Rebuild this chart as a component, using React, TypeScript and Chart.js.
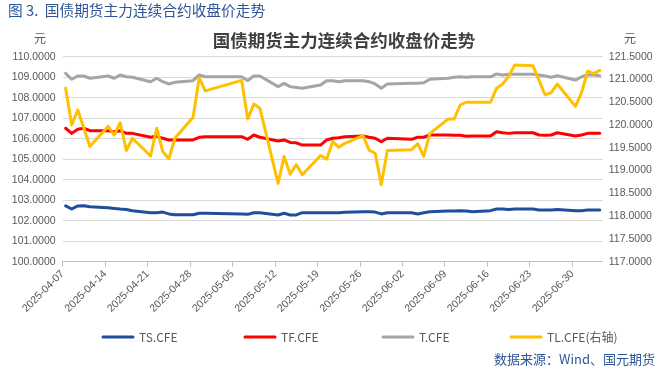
import React, { useEffect, useRef } from 'react';
import { Chart, registerables } from 'chart.js';

Chart.register(...registerables);

// ---------------- data ----------------
const figureCaption = '图 3.  国债期货主力连续合约收盘价走势';
const chartTitle = '国债期货主力连续合约收盘价走势';
const unitLabel = '元';
const sourceNote = '数据来源：Wind、国元期货';

const axisStartDate = '2025-04-07';
const axisDays = 89; // calendar days shown (04-07 .. 07-04)
const tickEveryDays = 7;

const tradeDates = [
  '2025-04-07', '2025-04-08', '2025-04-09', '2025-04-10', '2025-04-11',
  '2025-04-14', '2025-04-15', '2025-04-16', '2025-04-17', '2025-04-18',
  '2025-04-21', '2025-04-22', '2025-04-23', '2025-04-24', '2025-04-25',
  '2025-04-28', '2025-04-29', '2025-04-30',
  '2025-05-06', '2025-05-07', '2025-05-08', '2025-05-09',
  '2025-05-12', '2025-05-13', '2025-05-14', '2025-05-15', '2025-05-16',
  '2025-05-19', '2025-05-20', '2025-05-21', '2025-05-22', '2025-05-23',
  '2025-05-26', '2025-05-27', '2025-05-28', '2025-05-29', '2025-05-30',
  '2025-06-03', '2025-06-04', '2025-06-05', '2025-06-06',
  '2025-06-09', '2025-06-10', '2025-06-11', '2025-06-12', '2025-06-13',
  '2025-06-16', '2025-06-17', '2025-06-18', '2025-06-19', '2025-06-20',
  '2025-06-23', '2025-06-24', '2025-06-25', '2025-06-26', '2025-06-27',
  '2025-06-30', '2025-07-01', '2025-07-02', '2025-07-03', '2025-07-04',
];

const tsValues = [
  102.72, 102.57, 102.72, 102.73, 102.68,
  102.63, 102.60, 102.57, 102.55, 102.49,
  102.39, 102.39, 102.42, 102.33, 102.29,
  102.29, 102.36, 102.36,
  102.33, 102.31, 102.39, 102.39,
  102.28, 102.36, 102.28, 102.28, 102.39,
  102.39, 102.39, 102.39, 102.39, 102.41,
  102.44, 102.44, 102.42, 102.33, 102.39,
  102.39, 102.33, 102.39, 102.44,
  102.47, 102.47, 102.49, 102.47, 102.44,
  102.49, 102.57, 102.57, 102.55, 102.57,
  102.57, 102.52, 102.52, 102.52, 102.55,
  102.49, 102.49, 102.52, 102.52, 102.52,
];

const tfValues = [
  106.51, 106.26, 106.46, 106.51, 106.39,
  106.39, 106.34, 106.39, 106.26, 106.26,
  106.07, 106.13, 106.02, 105.94, 105.94,
  105.94, 106.07, 106.10,
  106.10, 105.97, 106.18, 106.07,
  105.89, 105.94, 105.82, 105.80, 105.69,
  105.69, 105.94, 106.02, 106.05, 106.10,
  106.13, 106.07, 106.02, 105.85, 106.02,
  105.97, 106.07, 106.07, 106.18,
  106.18, 106.17, 106.17, 106.12, 106.13,
  106.13, 106.34, 106.29, 106.26, 106.29,
  106.29, 106.18, 106.17, 106.18, 106.29,
  106.13, 106.18, 106.26, 106.26, 106.26,
];

const tValues = [
  109.19, 108.90, 109.06, 109.06, 108.95,
  109.06, 108.95, 109.11, 109.02, 109.00,
  108.78, 108.95, 108.78, 108.67, 108.75,
  108.83, 109.11, 109.02,
  109.02, 108.83, 109.06, 109.06,
  108.54, 108.70, 108.54, 108.50, 108.46,
  108.62, 108.83, 108.83, 108.78, 108.83,
  108.83, 108.78, 108.67, 108.46, 108.67,
  108.70, 108.70, 108.73, 108.90,
  108.95, 109.00, 109.02, 109.00, 109.02,
  109.02, 109.16, 109.11, 109.14, 109.14,
  109.14, 109.11, 109.06, 109.00, 109.07,
  108.86, 109.02, 109.11, 109.11, 109.07,
];

const tlValues = [
  120.81, 120.00, 120.33, 119.93, 119.53,
  119.97, 119.78, 120.05, 119.44, 119.71,
  119.32, 119.93, 119.42, 119.26, 119.71,
  120.17, 121.04, 120.75,
  120.98, 120.13, 120.46, 120.37,
  118.72, 119.31, 118.92, 119.13, 118.91,
  119.33, 119.25, 119.64, 119.51, 119.60,
  119.77, 119.45, 119.38, 118.69, 119.44,
  119.46, 119.59, 119.31, 119.81,
  120.13, 120.13, 120.44, 120.50, 120.50,
  120.50, 120.81, 120.90, 121.07, 121.32,
  121.30, 120.98, 120.66, 120.71, 120.90,
  120.41, 120.71, 121.18, 121.13, 121.20,
];

const seriesNames = ['TS.CFE', 'TF.CFE', 'T.CFE', 'TL.CFE(右轴)'];
const seriesColors = ['#1f4e9c', '#ff0000', '#a5a5a5', '#ffc000'];

const leftMin = 100;
const leftMax = 110;
const leftStep = 1;
const rightMin = 117;
const rightMax = 121.5;
const rightStep = 0.5;

// ---------------- helpers ----------------
const DAY_MS = 86400000;
function parseDate(s: string): number {
  const [y, m, d] = s.split('-').map(Number);
  return Date.UTC(y, m - 1, d);
}
const startMs = parseDate(axisStartDate);
function dayOffset(s: string): number {
  return Math.round((parseDate(s) - startMs) / DAY_MS);
}
function fmtDate(offset: number): string {
  const dt = new Date(startMs + offset * DAY_MS);
  const mm = String(dt.getUTCMonth() + 1).padStart(2, '0');
  const dd = String(dt.getUTCDate()).padStart(2, '0');
  return `${dt.getUTCFullYear()}-${mm}-${dd}`;
}
function toPoints(values: number[]) {
  // each trading day sits in the middle of its calendar-day slot
  return tradeDates.map((d, i) => ({ x: dayOffset(d) + 0.5, y: values[i] }));
}

const CJK = '"Noto Sans CJK SC", "Noto Sans", sans-serif';
const LATIN = '"Liberation Sans", Arial, sans-serif';

const textPlugin = {
  id: 'decorations',
  afterDraw(chart: any) {
    const ctx = chart.ctx as CanvasRenderingContext2D;
    ctx.save();
    // caption
    ctx.fillStyle = '#2f5597';
    ctx.font = `14.7px ${CJK}`;
    ctx.textAlign = 'left';
    ctx.textBaseline = 'middle';
    ctx.fillText(figureCaption, 8, 10);

    // chart title
    ctx.fillStyle = '#404040';
    ctx.font = `bold 17.5px ${CJK}`;
    ctx.textAlign = 'center';
    ctx.fillText(chartTitle, 344, 40);

    // unit labels
    ctx.fillStyle = '#595959';
    ctx.font = `12px ${CJK}`;
    ctx.fillText(unitLabel, 40, 38);
    ctx.fillText(unitLabel, 630, 38);

    // legend
    const legendX = [103, 245, 383, 511];
    const ly = 337;
    chart.data.datasets.forEach((ds: any, i: number) => {
      const x = legendX[i];
      ctx.strokeStyle = ds.borderColor;
      ctx.lineWidth = 3;
      ctx.lineCap = 'round';
      ctx.beginPath();
      ctx.moveTo(x, ly);
      ctx.lineTo(x + 30, ly);
      ctx.stroke();
      ctx.fillStyle = '#595959';
      ctx.font = `12px ${CJK}`;
      ctx.textAlign = 'left';
      ctx.fillText(ds.label, x + 36, ly);
    });

    // source
    ctx.fillStyle = '#2f5597';
    ctx.font = `13px ${CJK}`;
    ctx.textAlign = 'right';
    ctx.fillText(sourceNote, 655, 359);
    ctx.restore();
  },
};

export default function App() {
  const ref = useRef<HTMLCanvasElement | null>(null);

  useEffect(() => {
    if (!ref.current) return;
    const valueSets = [tsValues, tfValues, tValues, tlValues];
    const chart = new Chart(ref.current, {
      type: 'line',
      data: {
        datasets: valueSets.map((vals, i) => ({
          label: seriesNames[i],
          data: toPoints(vals),
          borderColor: seriesColors[i],
          backgroundColor: seriesColors[i],
          borderWidth: 3,
          pointRadius: 0,
          tension: 0,
          borderJoinStyle: 'round' as const,
          borderCapStyle: 'round' as const,
          yAxisID: i === 3 ? 'y1' : 'y',
          order: 4 - i,
        })),
      },
      options: {
        animation: false,
        responsive: false,
        events: [],
        layout: { padding: { top: 56.7, bottom: 52.3, left: 0, right: 0 } },
        plugins: {
          legend: { display: false },
          title: { display: false },
          tooltip: { enabled: false },
        },
        scales: {
          x: {
            type: 'linear',
            min: 0,
            max: axisDays,
            afterFit: (s: any) => { s.height = 60; },
            grid: {
              drawOnChartArea: false,
              drawTicks: true,
              tickLength: 5,
              color: '#bfbfbf',
            },
            border: { display: true, color: '#bfbfbf', width: 1 },
            ticks: {
              stepSize: tickEveryDays,
              includeBounds: false,
              autoSkip: false,
              maxRotation: 45,
              minRotation: 45,
              padding: 1,
              color: '#595959',
              font: { family: LATIN, size: 10.6 },
              callback: (v: any) => fmtDate(Number(v)),
            },
          },
          y: {
            position: 'left',
            min: leftMin,
            max: leftMax,
            afterFit: (s: any) => { s.width = 62.6; },
            grid: { color: '#d9d9d9', drawTicks: false, lineWidth: 1 },
            border: { display: false },
            ticks: {
              stepSize: leftStep,
              padding: 7,
              color: '#595959',
              font: { family: LATIN, size: 10.5 },
              callback: (v: any) => Number(v).toFixed(4),
            },
          },
          y1: {
            position: 'right',
            min: rightMin,
            max: rightMax,
            afterFit: (s: any) => { s.width = 60.2; },
            grid: { display: false, drawTicks: false },
            border: { display: false },
            ticks: {
              stepSize: rightStep,
              padding: 6,
              color: '#595959',
              font: { family: LATIN, size: 10.5 },
              callback: (v: any) => Number(v).toFixed(4),
            },
          },
        },
      },
      plugins: [textPlugin],
    } as any);
    return () => chart.destroy();
  }, []);

  return (
    <div style={{ position: 'fixed', left: 0, top: 0, width: 663, height: 374, background: '#ffffff' }}>
      <canvas ref={ref} width={663} height={374} style={{ display: 'block', width: 663, height: 374 }} />
    </div>
  );
}
